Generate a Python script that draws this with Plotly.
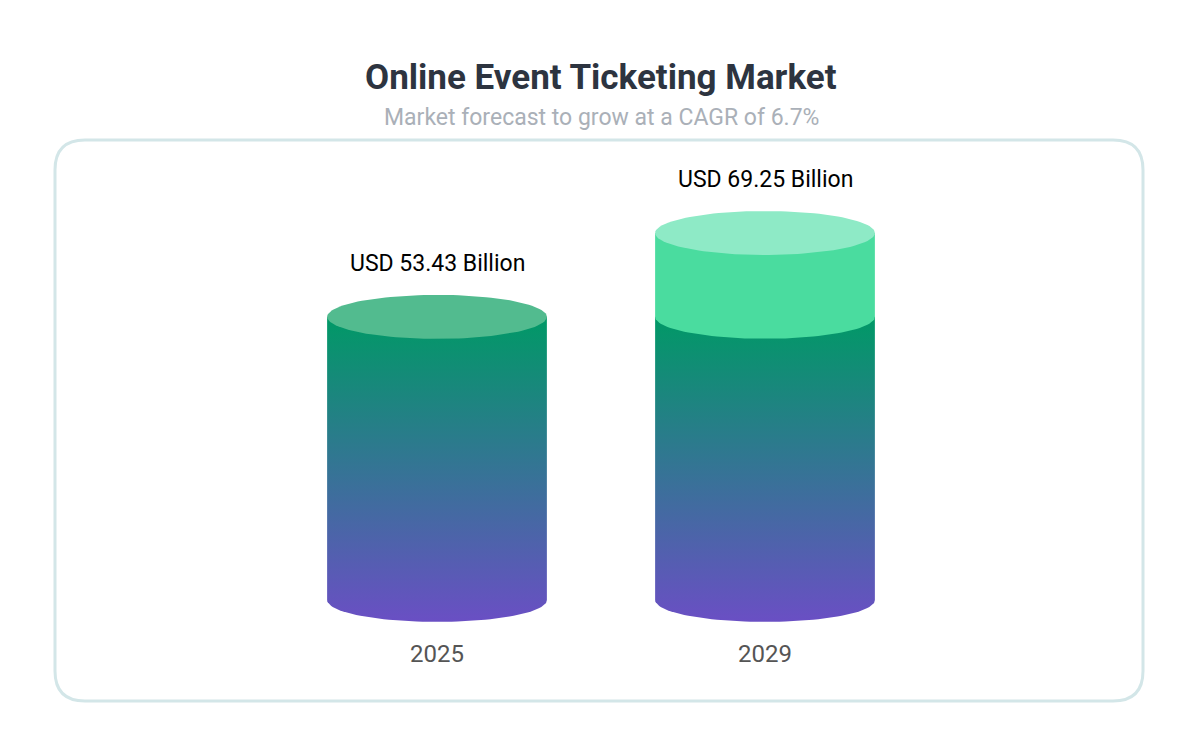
import numpy as np
import plotly.graph_objects as go

years = ["2025", "2029"]
values = [53.43, 69.25]
labels = ["USD 53.43 Billion", "USD 69.25 Billion"]

W, H = 1201, 751
OFF = 8             # page body margin offset
x_pos = [0, 1]
hw = 0.335          # half width of cylinder (x units)
eh = 4.15           # half height of ellipse (y units)
green, purple = "#009966", "#6a4fc4"

fig = go.Figure()
t_bot = np.linspace(0, np.pi, 60)
t_all = np.linspace(0, 2 * np.pi, 120)


def body(xc, y0, y1):
    # rectangle from y1 down to y0 with half-ellipse bottom
    xs = [xc - hw, xc + hw] + list(xc + hw * np.cos(t_bot))
    ys = [y1, y1] + list(y0 - eh * np.sin(t_bot))
    return xs + [xs[0]], ys + [ys[0]]


for xc, v in zip(x_pos, values):
    base = values[0]
    xs, ys = body(xc, 0, min(v, base))
    fig.add_trace(go.Scatter(x=xs, y=ys, fill="toself", mode="lines",
                             line=dict(width=0), hoverinfo="skip",
                             fillgradient=dict(type="vertical", start=-eh, stop=base,
                                               colorscale=[[0, purple], [1, green]])))
    top_col = "#52bb8f"
    if v > base:
        xs, ys = body(xc, base, v)
        fig.add_trace(go.Scatter(x=xs, y=ys, fill="toself", mode="lines",
                                 line=dict(width=0), fillcolor="#4adc9f", hoverinfo="skip"))
        top_col = "#8eeac6"
    fig.add_trace(go.Scatter(x=xc + hw * np.cos(t_all), y=v + eh * np.sin(t_all),
                             fill="toself", mode="lines", line=dict(width=0),
                             fillcolor=top_col, hoverinfo="skip"))

annotations = []
for xc, v, lab, yr in zip(x_pos, values, labels, years):
    annotations.append(dict(x=xc, y=v, text=lab, showarrow=False, yshift=53,
                            font=dict(size=23, color="#000")))
    annotations.append(dict(x=xc, y=0, text=yr, showarrow=False, yshift=-54,
                            font=dict(size=24, color="#555")))
annotations.append(dict(xref="paper", yref="paper", x=(601 - OFF) / W, y=1 - (55 - OFF) / H,
                        text="<b>Online Event Ticketing Market</b>",
                        showarrow=False, font=dict(size=35, color="#2d3440")))
annotations.append(dict(xref="paper", yref="paper", x=(601 - OFF) / W, y=1 - (102 - OFF) / H,
                        text="Market forecast to grow at a CAGR of 6.7%",
                        showarrow=False, font=dict(size=23, color="#aab0b8")))

# rounded card in paper coords
x0, x1 = (55 - OFF) / W, (1143 - OFF) / W
y0, y1 = 1 - (701 - OFF) / H, 1 - (140 - OFF) / H
r = 30
rx, ry = r / W, r / H
card = (f"M {x0+rx},{y1} L {x1-rx},{y1} Q {x1},{y1} {x1},{y1-ry} L {x1},{y0+ry} "
        f"Q {x1},{y0} {x1-rx},{y0} L {x0+rx},{y0} Q {x0},{y0} {x0},{y0+ry} "
        f"L {x0},{y1-ry} Q {x0},{y1} {x0+rx},{y1} Z")
shapes = [dict(type="path", xref="paper", yref="paper", path=card, layer="below",
               fillcolor="white", line=dict(color="#d3e6e8", width=3))]

px_x = 328.0
px_y = 5.3
cx, cy = 437 - OFF, 600 - OFF
fig.update_layout(
    width=W, height=H, margin=dict(l=0, r=0, t=0, b=0),
    paper_bgcolor="white", plot_bgcolor="rgba(0,0,0,0)", showlegend=False,
    font=dict(family="Roboto"),
    xaxis=dict(range=[-cx / px_x, (W - cx) / px_x], visible=False, fixedrange=True),
    yaxis=dict(range=[-(H - cy) / px_y, cy / px_y], visible=False, fixedrange=True),
    annotations=annotations, shapes=shapes,
)
fig.write_html("out.html")
